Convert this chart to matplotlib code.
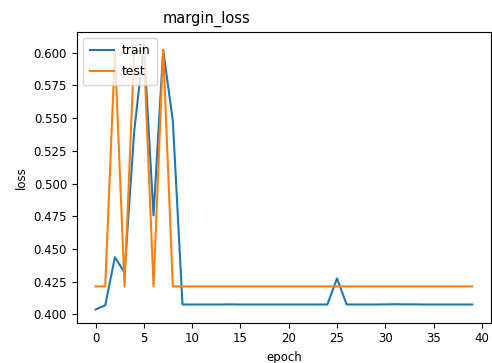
import matplotlib
matplotlib.use("Agg")
import matplotlib.pyplot as plt

epochs = list(range(40))
train = [0.4038, 0.407, 0.4437, 0.432, 0.54, 0.606, 0.4756, 0.602, 0.548,
         0.4076, 0.4076, 0.4076, 0.4076, 0.4076, 0.4077, 0.4076, 0.4076, 0.4076,
         0.4076, 0.4076, 0.4076, 0.4076, 0.4076, 0.4076, 0.4076, 0.4275, 0.4076,
         0.4076, 0.4076, 0.4076, 0.4077, 0.4078, 0.4077, 0.4077, 0.4076, 0.4076,
         0.4076, 0.4076, 0.4076, 0.4076]
test = [0.4214, 0.4214, 0.601, 0.4214, 0.601, 0.601, 0.4214, 0.602, 0.4214] + [0.4214] * 31

plt.rcParams['font.size'] = 8.5
fig = plt.figure(figsize=(4.92, 3.63), dpi=100)
ax = fig.add_axes([0.156, 0.111, 0.842, 0.802])
ax.plot(epochs, train, label='train')
ax.plot(epochs, test, label='test')
ax.set_title('margin_loss', x=0.312, fontsize=10.5)
ax.set_xlabel('epoch')
ax.set_ylabel('loss')
ax.legend(loc='upper left', fontsize=8.8, handlelength=2.0, borderpad=0.55,
          labelspacing=0.65, handletextpad=0.6)
fig.savefig('out.png', dpi=100)
